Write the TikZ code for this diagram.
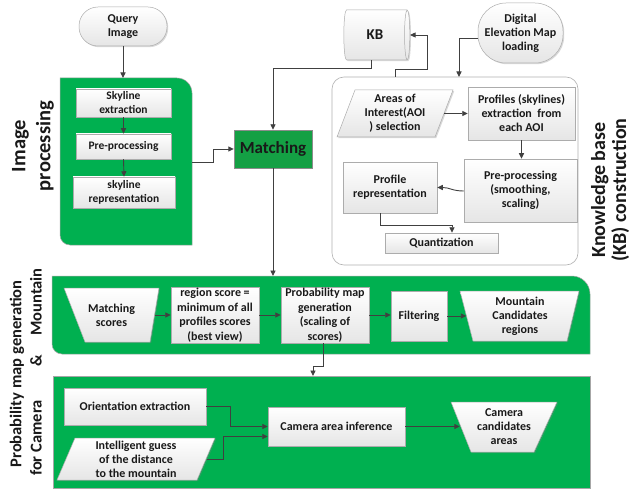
\documentclass[tikz,border=0pt]{standalone}
\usepackage{fontspec}
\setmainfont{Carlito}
\usetikzlibrary{shapes.geometric,arrows.meta,shadows,calc}
\definecolor{gr}{HTML}{00B050}
\definecolor{grd}{HTML}{14A044}
\definecolor{ln}{HTML}{404040}
\tikzset{
  wbox/.style={draw=gray!65, line width=0.5pt, top color=white, bottom color=gray!20,
    drop shadow={shadow xshift=1.2pt,shadow yshift=-1.2pt,opacity=0.3},
    font=\bfseries\fontsize{12}{14}\selectfont, align=center, inner sep=1pt, text=black!90},
  wpoly/.style={draw=gray!65, line width=0.5pt, top color=white, bottom color=gray!20,
    drop shadow={shadow xshift=1.2pt,shadow yshift=-1.2pt,opacity=0.3}},
  lbl/.style={font=\bfseries\fontsize{12}{14}\selectfont, align=center, inner sep=0pt, text=black!90},
  arr/.style={draw=ln, line width=0.9pt, -{Triangle[length=5.5pt,width=5pt]}},
  band/.style={fill=gr, draw=black!35, line width=0.5pt},
  side/.style={font=\bfseries\fontsize{16.5}{18}\selectfont, rotate=90, align=center, inner sep=0pt, text=black!90},
}
\begin{document}
\begin{tikzpicture}[x=1pt,y=-1pt]
\useasboundingbox (0,0) rectangle (634,489);
\fill[white] (0,0) rectangle (634,489);

% ---------- containers ----------
\path[band] (60,78) -- (177,78) arc[start angle=-90,end angle=0,radius=15] -- (192,245) -- (70,245) arc[start angle=90,end angle=180,radius=10] -- cycle;
\path[draw=gray!60, fill=white, rounded corners=12pt, line width=0.6pt] (332,77) rectangle (578,265);
\path[band] (52,276) -- (572,276) arc[start angle=-90,end angle=0,radius=18] -- (590,354) -- (62,354) arc[start angle=90,end angle=180,radius=10] -- cycle;
\path[band] (53,376) rectangle (590,488);

\coordinate (ipTop) at (123,78);
\coordinate (ipR) at (192,162);
\coordinate (kbbT) at (395,77);
\coordinate (demIn) at (459,77);
\coordinate (mbTop) at (273,276);
\coordinate (cbTop) at (313,376);

% ---------- side labels ----------
\node[side, font=\bfseries\fontsize{20.5}{25}\selectfont] (lip) at (33,146) {Image\\processing};
\node[side, font=\bfseries\fontsize{20}{21}\selectfont] (lkb) at (610,190) {Knowledge base\\(KB) construction};
\node[side] (lpm) at (17,374) {Probability map generation};
\node[side] (lmo) at (36,302) {Mountain};
\node[side] (lam) at (36,361) {\&};
\node[side] (lfc) at (36,438) {for Camera};

% ---------- top-left ----------
\node[wbox, rounded corners=19pt, minimum width=88pt, minimum height=39pt] (qi) at (123,26.5) {Query\\Image};
\node[wbox, font=\bfseries\fontsize{11.5}{14}\selectfont, minimum width=95pt, minimum height=28pt] (se) at (123.5,103) {Skyline\\extraction};
\node[wbox, font=\bfseries\fontsize{11.5}{14}\selectfont, minimum width=95pt, minimum height=25pt] (pp) at (123.5,146.5) {Pre-processing};
\node[wbox, font=\bfseries\fontsize{11.5}{14}\selectfont, minimum width=102pt, minimum height=31pt] (sr) at (124,192.5) {skyline\\representation};
\node[draw=black!45, fill=grd, minimum width=78pt, minimum height=38pt, inner sep=1pt,
  font=\bfseries\fontsize{17}{19}\selectfont, text=black!90,
  drop shadow={shadow xshift=1.2pt,shadow yshift=-1.2pt,opacity=0.3}] (mt) at (273,149) {Matching};

% ---------- KB ----------
\node[cylinder, draw=gray!65, line width=0.5pt, top color=white, bottom color=gray!20, aspect=0.45,
  minimum width=50pt, minimum height=66pt, inner sep=1pt, font=\bfseries\fontsize{15}{17}\selectfont, text=black!90,
  drop shadow={shadow xshift=1.2pt,shadow yshift=-1.2pt,opacity=0.3}] (kb) at (375,35) {KB};
\node[wbox, rounded corners=28pt, minimum width=85pt, minimum height=60pt] (dem) at (520.5,33) {Digital\\Elevation Map\\loading};

\path[wpoly] (355,90) -- (453,90) -- (435,137) -- (337,137) -- cycle;
\node[lbl, minimum width=98pt, minimum height=47pt] (aoi) at (395,113.5) {Areas of\\Interest(AOI\\) selection};
\node[wbox, minimum width=107pt, minimum height=53pt] (pr) at (521.5,113.5) {Profiles (skylines)\\extraction~ from\\each AOI};
\node[wbox, minimum width=113pt, minimum height=63pt] (pk) at (520.5,190.5) {Pre-processing\\(smoothing,\\scaling)};
\node[wbox, minimum width=94pt, minimum height=51pt] (prep) at (390,187.5) {Profile\\representation};
\node[wbox, minimum width=113pt, minimum height=20pt] (qu) at (441.5,243) {Quantization};

% ---------- mountain band ----------
\path[wpoly] (64,288) -- (159,288) -- (150,342) -- (85,342) -- cycle;
\node[lbl, minimum width=86pt, minimum height=54pt] (ms) at (111.5,315) {Matching\\scores};
\node[wbox, font=\bfseries\fontsize{12}{14.5}\selectfont, minimum width=88pt, minimum height=54pt] (rs) at (215,315) {region score =\\minimum of all\\profiles scores\\(best view)};
\node[wbox, font=\bfseries\fontsize{12}{14.5}\selectfont, minimum width=88pt, minimum height=54pt] (pm) at (325,315) {Probability map\\generation\\(scaling of\\scores)};
\node[wbox, minimum width=56pt, minimum height=50pt] (fi) at (419,316) {Filtering};
\path[wpoly] (460,291) -- (579,291) -- (567,341) -- (473,341) -- cycle;
\node[lbl, minimum width=107pt, minimum height=50pt] (mc) at (520,316) {Mountain\\Candidates\\regions};

% ---------- camera band ----------
\node[wbox, minimum width=142pt, minimum height=37pt] (oe) at (135,406.5) {Orientation extraction};
\path[wpoly] (75,438) -- (215,438) -- (197,480) -- (57,480) -- cycle;
\node[lbl, minimum width=142pt, minimum height=42pt] (ig) at (136,459) {Intelligent guess\\of the distance\\to the mountain};
\node[wbox, minimum width=137pt, minimum height=39pt] (ca) at (336.5,426.5) {Camera area inference};
\path[wpoly] (451,402) -- (557,402) -- (534,452) -- (471,452) -- cycle;
\node[lbl, minimum width=88pt, minimum height=50pt] (cc) at (504,427) {Camera\\candidates\\areas};

% ---------- connectors ----------
\draw[arr] (qi.south) -- (ipTop);
\draw[arr] (se.south) -- (pp.north);
\draw[arr] (pp.south) -- (sr.north);
\draw[arr] (ipR) -- (213,162) |- (mt.west);
\draw[arr] ([xshift=-4pt]kb.south) -- ++(0,8) -| (mt.north);
\draw[arr] (kbbT) -- (395,69) -- (427,69) |- (kb.east);
\draw[arr] ([yshift=-5pt]dem.west) -| (demIn);
\draw[arr] (aoi.east) -- (aoi.east -| pr.west);
\draw[arr] (pr.south) -- (pr.south |- pk.north);
\draw[arr] ([yshift=-0.5pt]pk.west) .. controls (452,191) and (450,187.5) .. (prep.east);
\draw[arr] ([xshift=-10pt]prep.south) -- ++(0,12) -| ([xshift=10.5pt]qu.north);
\draw[arr] (mt.south) -- (mbTop);
\draw[arr] (ms.east) -- (ms.east -| rs.west);
\draw[arr] (rs.east) -- (rs.east -| pm.west);
\draw[arr] (pm.east) -- (pm.east -| fi.west);
\draw[arr] (fi.east) -- (fi.east -| mc.west);
\draw[arr] ([xshift=-2pt]pm.south) -- ++(0,23) -| (cbTop);
\draw[arr] (oe.east) -- (230,406.5) |- (ca.west);
\draw[arr] (ig.east) -- (223,459) |- ([yshift=-10pt]ca.west);
\draw[arr] (ca.east) -- (ca.east -| cc.west);
\end{tikzpicture}
\end{document}
